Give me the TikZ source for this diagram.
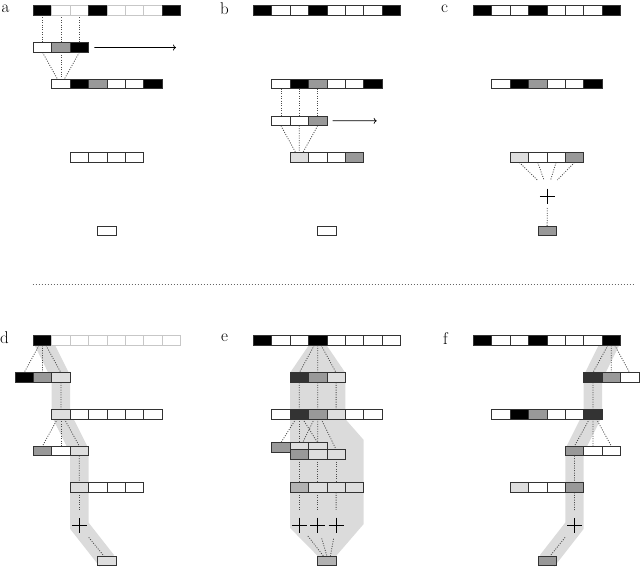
\documentclass[tikz,border=0pt]{standalone}
\usetikzlibrary{calc,arrows.meta}
\pgfdeclarelayer{bg}
\pgfdeclarelayer{ln}
\pgfsetlayers{bg,ln,main}
\tikzset{
  cell/.style={draw=black!80, line width=0.7pt, minimum width=18.4pt, minimum height=9.7pt,
    inner sep=0pt, outer sep=0pt, anchor=north west},
  cB/.style={fill=black},
  cD/.style={fill=black!80},
  cG/.style={fill=black!40},
  cM/.style={fill=black!30},
  cL/.style={fill=black!13},
  cW/.style={fill=white},
  cw/.style={fill=white, draw=black!22},
  dotline/.style={line width=0.8pt, black!70, dash pattern=on 1pt off 1.4pt},
  sepline/.style={line width=1pt, black!60, dash pattern=on 1.5pt off 1.5pt},
  band/.style={line width=18.4pt, black!14, line join=miter},
  bandfill/.style={fill=black!14},
  plus/.style={minimum size=15pt, inner sep=0pt, outer sep=0pt},
  plusline/.style={line width=0.7pt, black},
  arrowline/.style={line width=0.7pt, -{To[length=3pt, width=6pt]}},
  lbl/.style={anchor=base west, inner sep=0pt, font=\fontsize{17}{20}\selectfont},
}
\newcommand\cellrow[4]{\foreach \cc [count=\ii] in {#4}{\node[cell,\cc] (#1-\ii) at ({#2+18.4*(\ii-1)},#3) {};}}
\begin{document}
\begin{tikzpicture}[x=1pt,y=-1pt]
\useasboundingbox (0,0) rectangle (640,567);
% labels
\node[lbl] (la) at (1.5,13) {a};
\node[lbl] (lb) at (220,14.5) {b};
\node[lbl] (lc) at (441,13) {c};
\node[lbl] (ld) at (0,343) {d};
\node[lbl] (le) at (221,341) {e};
\node[lbl] (lf) at (443,344) {f};
% ---------- panel a
\cellrow{a1}{33.3}{5.3}{cB,cw,cw,cB,cw,cw,cw,cB}
\cellrow{a2}{33.3}{42.7}{cW,cG,cB}
\cellrow{a3}{51.7}{79}{cW,cB,cG,cW,cW,cB}
\cellrow{a4}{70.1}{152.7}{cW,cW,cW,cW}
\cellrow{a5}{97.7}{226}{cW}
\coordinate (aarr) at (176,47.55);
\draw[arrowline] ([xshift=5.8pt]a2-3.east) -- (aarr);
% ---------- panel b
\cellrow{b1}{253.3}{5.3}{cB,cW,cW,cB,cW,cW,cW,cB}
\cellrow{b2}{271.7}{79}{cW,cB,cG,cW,cW,cB}
\cellrow{b3}{271.7}{116}{cW,cW,cG}
\cellrow{b4}{290.1}{152.7}{cL,cW,cW,cG}
\cellrow{b5}{317.7}{226}{cW}
\coordinate (barr) at (376.7,120.85);
\draw[arrowline] ([xshift=5.8pt]b3-3.east) -- (barr);
% ---------- panel c
\cellrow{c1}{473.3}{5.3}{cB,cW,cW,cB,cW,cW,cW,cB}
\cellrow{c2}{491.7}{79}{cW,cB,cG,cW,cW,cB}
\cellrow{c3}{510.1}{152.7}{cL,cW,cW,cG}
\node[plus] (cp) at (547.3,196) {};
\draw[plusline] (cp.north) -- (cp.south) (cp.west) -- (cp.east);
\cellrow{c5}{537.9}{226}{cG}
% separator
\coordinate (sepL) at (32.7,284);
\coordinate (sepR) at (633.3,284);
\draw[sepline] (sepL) -- (sepR);
% ---------- panel d
\cellrow{d1}{33.3}{335.7}{cB,cw,cw,cw,cw,cw,cw,cw}
\cellrow{d2}{14.9}{372.7}{cB,cG,cL}
\cellrow{d3}{51.7}{409.3}{cL,cW,cW,cW,cW,cW}
\cellrow{d4}{33.3}{446}{cG,cW,cL}
\cellrow{d5}{70.1}{482.7}{cL,cW,cW,cW}
\node[plus] (dp) at (79.3,525.7) {};
\draw[plusline] (dp.north) -- (dp.south) (dp.west) -- (dp.east);
\cellrow{d6}{97.7}{556}{cL}
% ---------- panel e
\cellrow{e1}{253.3}{335.7}{cB,cW,cW,cB,cW,cW,cW,cW}
\cellrow{e2}{290.1}{372.7}{cD,cG,cL}
\cellrow{e3}{271.7}{409.3}{cW,cD,cG,cL,cW,cW}
\cellrow{e4a}{271.7}{442.7}{cG,cL,cL}
\cellrow{e4b}{290.1}{449.5}{cG,cL,cL}
\cellrow{e5}{290.1}{482.7}{cM,cL,cL,cL}
\node[plus] (ep1) at (299.3,525) {};
\node[plus] (ep2) at (317.7,525) {};
\node[plus] (ep3) at (336.1,525) {};
\foreach \k in {1,2,3}{\draw[plusline] (ep\k.north) -- (ep\k.south) (ep\k.west) -- (ep\k.east);}
\cellrow{e6}{317.7}{556}{cM}
% ---------- panel f
\cellrow{f1}{473.3}{335.7}{cB,cW,cW,cB,cW,cW,cW,cB}
\cellrow{f2}{583.7}{372.7}{cD,cG,cW}
\cellrow{f3}{491.7}{409.3}{cW,cB,cG,cW,cW,cD}
\cellrow{f4}{565.3}{446}{cG,cW,cW}
\cellrow{f5}{510.1}{482.7}{cL,cW,cW,cG}
\node[plus] (fp) at (574.5,525.7) {};
\draw[plusline] (fp.north) -- (fp.south) (fp.west) -- (fp.east);
\cellrow{f6}{537.9}{556}{cG}
% ---------- bands
\begin{pgfonlayer}{bg}
\draw[band] (d1-1.center) -- (d2-3.center) -- (d3-1.center) -- (d4-3.center) -- (d5-1.center) -- (dp.center) -- (d6-1.center);
\draw[band] (f1-8.center) -- (f2-1.center) -- (f3-6.center) -- (f4-1.center) -- (f5-4.center) -- (fp.center) -- (f6-1.center);
\fill[bandfill] (308.5,345.7) -- (326.9,345.7) -- (345.3,372.7) -- (345.3,419) -- (363.7,440) -- (363.7,524) -- (336.1,556) -- (317.7,556) -- (290.1,528) -- (290.1,372.7) -- cycle;
\end{pgfonlayer}
% ---------- dotted connectors
\begin{pgfonlayer}{ln}
% a
\foreach \i in {1,2,3}{\draw[dotline] (a1-\i.south) -- (a2-\i.north);}
\foreach \i/\dx in {1/-3.5,2/0,3/3.5}{\draw[dotline] (a2-\i.south) -- ([xshift=\dx pt]a3-1.north);}
% b
\foreach \i in {1,2,3}{\draw[dotline] (b2-\i.south) -- (b3-\i.north);}
\foreach \i/\dx in {1/-3.5,2/0,3/3.5}{\draw[dotline] (b3-\i.south) -- ([xshift=\dx pt]b4-1.north);}
% c
\foreach \i/\dx in {1/-10,2/-3.3,3/3.3,4/10}{\draw[dotline] (c3-\i.south) -- ([shift={(\dx,-8.5)}]cp.north);}
\draw[dotline, shorten <=4.5pt] (cp.south) -- (c5-1.north);
% d
\foreach \i/\dx in {1/-3.5,2/0,3/3.5}{\draw[dotline] ([xshift=\dx pt]d1-1.south) -- (d2-\i.north);}
\draw[dotline] (d2-3.south) -- (d3-1.north);
\foreach \i/\dx in {1/-3.5,2/0,3/3.5}{\draw[dotline] ([xshift=\dx pt]d3-1.south) -- (d4-\i.north);}
\draw[dotline] (d4-3.south) -- (d5-1.north);
\draw[dotline, shorten >=8pt] (d5-1.south) -- (dp.north);
\draw[dotline, shorten <=15pt] (dp.center) -- ([xshift=-3pt]d6-1.north);
% e
\foreach \i/\dx in {1/-3.5,2/0,3/3.5}{\draw[dotline] ([xshift=\dx pt]e1-4.south) -- (e2-\i.north);}
\foreach \i/\j in {1/2,2/3,3/4}{\draw[dotline] (e2-\i.south) -- (e3-\j.north);}
\foreach \i/\dx in {1/-3.5,2/0,3/3.5}{
  \draw[dotline] ([xshift=\dx pt]e3-2.south) -- (e4a-\i.north);
  \draw[dotline] ([xshift=\dx pt]e3-3.south) -- (e4b-\i.north);}
\foreach \i in {1,2,3}{\draw[dotline] (e4b-\i.south) -- (e5-\i.north);}
\foreach \i in {1,2,3}{\draw[dotline, shorten >=8pt] (e5-\i.south) -- (ep\i.north);}
\foreach \i/\dx in {1/-3.5,2/0,3/3.5}{\draw[dotline, shorten <=14pt] (ep\i.center) -- ([xshift=\dx pt]e6-1.north);}
% f
\foreach \i/\dx in {1/-3.5,2/0,3/3.5}{\draw[dotline] ([xshift=\dx pt]f1-8.south) -- (f2-\i.north);}
\draw[dotline] (f2-1.south) -- (f3-6.north);
\foreach \i/\dx in {1/-3.5,2/0,3/3.5}{\draw[dotline] ([xshift=\dx pt]f3-6.south) -- (f4-\i.north);}
\draw[dotline] (f4-1.south) -- (f5-4.north);
\draw[dotline, shorten >=8pt] (f5-4.south) -- (fp.north);
\draw[dotline, shorten <=15pt] (fp.center) -- ([xshift=3pt]f6-1.north);
\end{pgfonlayer}
\end{tikzpicture}
\end{document}
